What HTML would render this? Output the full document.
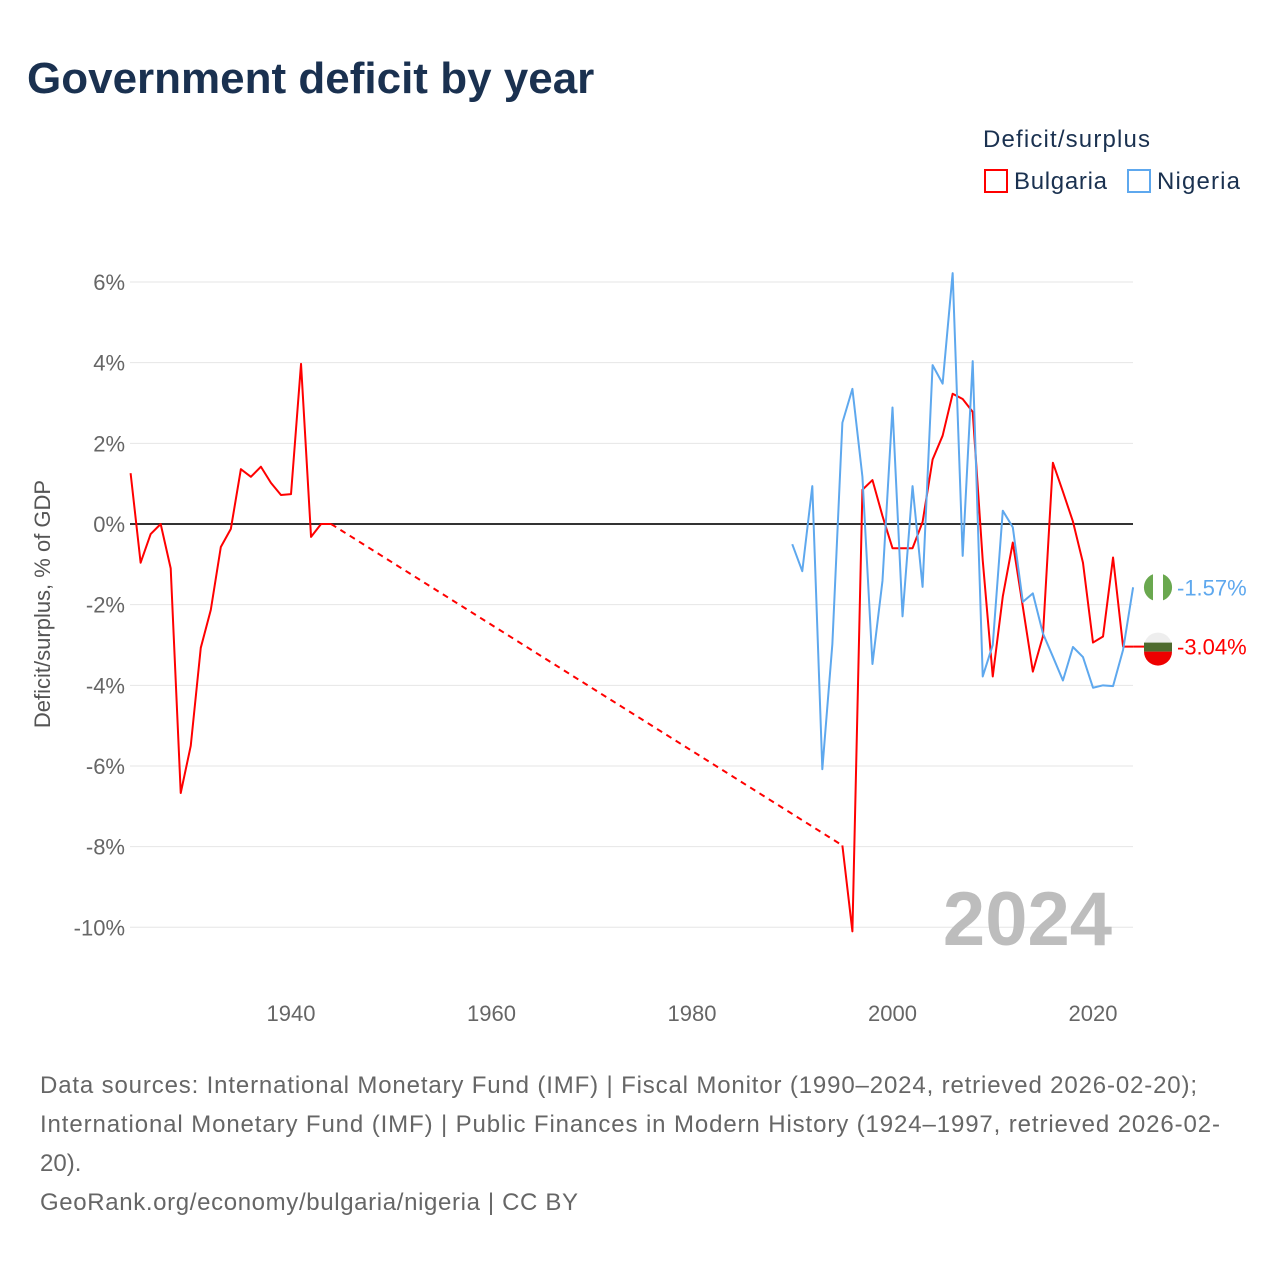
<!DOCTYPE html>
<html><head><meta charset="utf-8"><style>
body{margin:0;background:#fff;font-family:"Liberation Sans",sans-serif}
svg text{font-family:"Liberation Sans",sans-serif}
</style></head><body>
<svg width="1280" height="1280" xmlns="http://www.w3.org/2000/svg">
<text x="27" y="93" font-size="44" font-weight="bold" fill="#1a3150">Government deficit by year</text>
<text x="983" y="147" font-size="24" fill="#1a3150" textLength="167">Deficit/surplus</text>
<g><rect x="985" y="170" width="22" height="22" fill="none" stroke="#f00" stroke-width="2"/><text x="1014" y="189" font-size="24" fill="#1a3150" textLength="93">Bulgaria</text></g>
<g><rect x="1128" y="170" width="22" height="22" fill="none" stroke="#5ea8ee" stroke-width="2"/><text x="1157" y="189" font-size="24" fill="#1a3150" textLength="83">Nigeria</text></g>
<g id="grid"></g>
<g id="xt"></g>
<text transform="translate(50,604) rotate(-90)" text-anchor="middle" font-size="22" fill="#555">Deficit/surplus, % of GDP</text>
<text x="1112" y="945" text-anchor="end" font-size="76" font-weight="bold" fill="#bdbdbd">2024</text>
<g id="series"></g>
<text x="40" y="1093" font-size="24" fill="#666" textLength="1157">Data sources: International Monetary Fund (IMF) | Fiscal Monitor (1990–2024, retrieved 2026-02-20);</text>
<text x="40" y="1132" font-size="24" fill="#666" textLength="1180">International Monetary Fund (IMF) | Public Finances in Modern History (1924–1997, retrieved 2026-02-</text>
<text x="40" y="1171" font-size="24" fill="#666">20).</text>
<text x="40" y="1210" font-size="24" fill="#666" textLength="538">GeoRank.org/economy/bulgaria/nigeria | CC BY</text>
</svg>
<script>
const yTicks=[6,4,2,0,-2,-4,-6,-8,-10];
const xTicks=[1940,1960,1980,2000,2020];
const bgYearsA=[1924,1925,1926,1927,1928,1929,1930,1931,1932,1933,1934,1935,1936,1937,1938,1939,1940,1941,1942,1943,1944];
const bgValsA=[1.26,-0.96,-0.25,0,-1.1,-6.67,-5.5,-3.07,-2.13,-0.57,-0.12,1.36,1.17,1.42,1.02,0.72,0.74,3.97,-0.32,0,0];
const bgYearsB=[1995,1996,1997,1998,1999,2000,2001,2002,2003,2004,2005,2006,2007,2008,2009,2010,2011,2012,2013,2014,2015,2016,2017,2018,2019,2020,2021,2022,2023,2024];
const bgValsB=[-7.97,-10.1,0.85,1.09,0.2,-0.6,-0.6,-0.6,0.05,1.6,2.19,3.23,3.1,2.78,-0.9,-3.78,-1.8,-0.46,-2.05,-3.66,-2.79,1.52,0.8,0.06,-0.96,-2.94,-2.79,-0.83,-3.04,-3.04];
const ngYears=[1990,1991,1992,1993,1994,1995,1996,1997,1998,1999,2000,2001,2002,2003,2004,2005,2006,2007,2008,2009,2010,2011,2012,2013,2014,2015,2016,2017,2018,2019,2020,2021,2022,2023,2024];
const ngVals=[-0.5,-1.17,0.94,-6.08,-2.98,2.51,3.35,1.17,-3.47,-1.41,2.89,-2.29,0.94,-1.56,3.94,3.48,6.22,-0.79,4.04,-3.78,-3.0,0.33,-0.08,-1.93,-1.72,-2.71,-3.29,-3.88,-3.05,-3.3,-4.06,-4.0,-4.02,-3.12,-1.57];
const X=y=>130.6+(y-1924)*10.025;
const Y=v=>524-v*40.33;
const NS='http://www.w3.org/2000/svg';
function mk(t,a,p){const e=document.createElementNS(NS,t);for(const k in a)e.setAttribute(k,a[k]);p.appendChild(e);return e;}
const grid=document.getElementById('grid');
yTicks.forEach(v=>{
 const l=mk('line',{x1:130,x2:1133,y1:Y(v),y2:Y(v),stroke:v===0?'#333':'#e6e6e6','stroke-width':v===0?2:1},grid);
 
 
 const t=mk('text',{x:125,y:Y(v)+8,'text-anchor':'end','font-size':22,fill:'#666'},grid);
 
 
 t.textContent=v+'%';
});
const xt=document.getElementById('xt');
xTicks.forEach(y=>{
 const t=mk('text',{x:X(y),y:1021,'text-anchor':'middle','font-size':22,fill:'#666'},xt);
 
 
 t.textContent=y;
});
const s=document.getElementById('series');
function line(ys,vs,col,name,dash){
 const p=mk('polyline',{points:ys.map((y,i)=>X(y)+','+Y(vs[i])).join(' '),fill:'none',stroke:col,'stroke-width':2,'stroke-linejoin':'round'},s);
 if(dash)p.setAttribute('stroke-dasharray','6,5');
 
 
}
line(bgYearsA,bgValsA,'#f00','bulgaria-line-early');
line([bgYearsA[bgYearsA.length-1],bgYearsB[0]],[bgValsA[bgValsA.length-1],bgValsB[0]],'#f00','bulgaria-gap-line',true);
line(bgYearsB,bgValsB,'#f00','bulgaria-line-recent');
line(ngYears,ngVals,'#5ea8ee','nigeria-line');
const ngV=ngVals[ngVals.length-1], bgV=bgValsB[bgValsB.length-1];
const fx=1158;
const g1=mk('g',{},s);


mk('circle',{cx:fx,cy:Y(ngV),r:14,fill:'#fff'},g1);
mk('path',{d:`M${fx-5},${Y(ngV)-13.1} A14,14 0 0 0 ${fx-5},${Y(ngV)+13.1} Z`,fill:'#6aa84f'},g1);
mk('path',{d:`M${fx+5},${Y(ngV)-13.1} A14,14 0 0 1 ${fx+5},${Y(ngV)+13.1} Z`,fill:'#6aa84f'},g1);
const g2=mk('g',{},s);


const by=Y(bgV);
mk('circle',{cx:fx,cy:by,r:14,fill:'#eee'},g2);
mk('rect',{x:fx-14,y:by-4,width:28,height:9,fill:'#4e6b2e'},g2);
mk('path',{d:`M${fx-14},${by+5} L${fx+14},${by+5} A14,14 0 0 1 ${fx-14},${by+5} Z`,fill:'#e00'},g2);
mk('line',{x1:X(2024),x2:fx-14,y1:by,y2:by,stroke:'#f00','stroke-width':2},s);
const t1=mk('text',{x:1177,y:Y(ngV)+8,'font-size':22,fill:'#5ea8ee'},s);


t1.textContent=ngV.toFixed(2)+'%';
const t2=mk('text',{x:1177,y:by+8,'font-size':22,fill:'#f00'},s);


t2.textContent=bgV.toFixed(2)+'%';
</script>
</body></html>
